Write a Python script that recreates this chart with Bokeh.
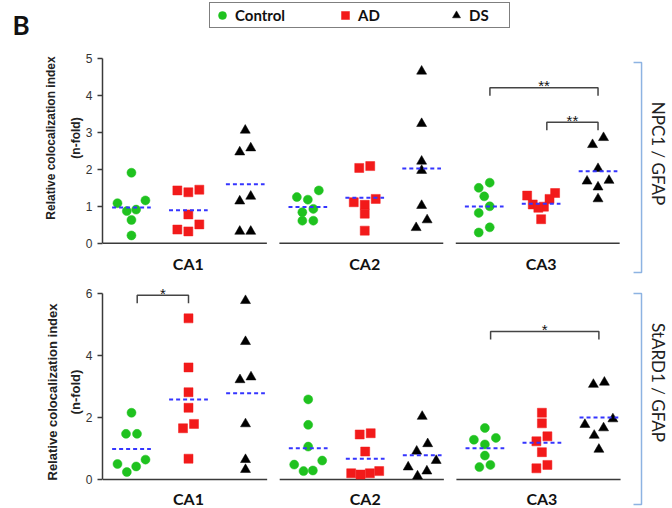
import numpy as np
from bokeh.plotting import figure
from bokeh.models import Range1d, FixedTicker, Legend, LegendItem, Label, ColumnDataSource
from bokeh.layouts import column, row
from bokeh.core.properties import value
from bokeh.embed import file_html
from bokeh.resources import INLINE

regions = ["CA1", "CA2", "CA3"]
groups = ["Control", "AD", "DS"]

# NPC1 / GFAP (values per region CA1, CA2, CA3)
npc1_control = [[1.91, 1.16, 1.085, 0.91, 0.87, 0.63, 0.21],
                [1.43, 1.25, 1.18, 0.93, 0.84, 0.61, 0.61],
                [1.64, 1.50, 1.27, 1.00, 0.82, 0.43, 0.29]]
npc1_ad = [[1.45, 1.43, 1.38, 0.78, 0.51, 0.37, 0.32],
           [2.09, 2.04, 1.20, 1.11, 1.04, 0.80, 0.34],
           [1.36, 1.29, 1.20, 1.05, 0.99, 0.96, 0.65]]
npc1_ds = [[3.06, 2.58, 2.47, 1.27, 1.14, 0.32, 0.32],
           [4.66, 3.24, 2.22, 1.97, 1.02, 0.63, 0.42],
           [2.86, 2.67, 2.02, 1.70, 1.68, 1.52, 1.20]]

# StARD1 / GFAP
stard1_control = [[2.15, 1.47, 1.47, 0.64, 0.50, 0.42, 0.24],
                  [2.58, 1.76, 1.06, 0.61, 0.48, 0.29, 0.27],
                  [1.66, 1.34, 1.28, 1.13, 0.77, 0.47, 0.40]]
stard1_ad = [[5.19, 3.61, 2.81, 2.31, 1.79, 1.65, 0.67],
             [1.49, 1.45, 0.90, 0.27, 0.20, 0.20, 0.16],
             [2.15, 1.81, 1.39, 1.23, 0.88, 0.47, 0.36]]
stard1_ds = [[5.76, 4.44, 3.30, 3.21, 1.79, 0.64, 0.32],
             [2.03, 1.15, 0.91, 0.61, 0.40, 0.27, 0.11],
             [3.13, 3.06, 1.95, 1.77, 1.66, 1.42, 0.97]]

# significance brackets: (region, group a, group b, bracket level, label)
npc1_sig = [("CA3", "Control", "DS", 4.21, "**"), ("CA3", "AD", "DS", 3.28, "**")]
stard1_sig = [("CA1", "Control", "AD", 5.93, "*"), ("CA3", "Control", "DS", 4.77, "*")]

npc1_ticks = [0, 1, 2, 3, 4, 5]
stard1_ticks = [0, 2, 4, 6]

COLORS = {"Control": "#1fc21f", "AD": "#f21a1a", "DS": "#000000"}
MARKERS = {"Control": "circle", "AD": "square", "DS": "triangle"}
SIZES = {"Control": 9, "AD": 9, "DS": 10}
PPX = 57.0   # px per category step
GAP = 3.1    # category steps between region groups
BOLD = "Lato"
STRIP = 40   # width of the left strip holding the panel letter
TOTAL_W = 672


def swarm(vals, ppu, thr=8.0, step=11.0, maxw=28.0):
    vals = np.asarray(vals, dtype=float)
    order = np.argsort(vals, kind="stable")
    v = vals[order]
    clusters = [[0]]
    for i in range(1, len(v)):
        if (v[i] - v[i - 1]) * ppu < thr:
            clusters[-1].append(i)
        else:
            clusters.append([i])
    off = np.zeros(len(v))
    for c in clusters:
        n = len(c)
        s = step if n <= 3 else min(step, maxw / (n - 1))
        slots = [(k - (n - 1) / 2) * s for k in range(n)]
        slots = sorted(slots, key=lambda z: (abs(z), z))
        for k, i in enumerate(c):
            off[order[i]] = slots[k]
    return off


def panel(data, sig, ticks, right_label, cfg, legend=False):
    ppu, y0, top, h, fl, x0 = cfg["ppu"], cfg["y0"], cfg["top"], cfg["h"], cfg["fl"], cfg["x0"]
    tx = lambda px: (px - x0) / PPX
    ty = lambda py: (y0 - py) / ppu
    p = figure(width=TOTAL_W - STRIP, height=h, output_backend="svg", toolbar_location=None,
               x_range=Range1d(tx(fl), tx(TOTAL_W)), y_range=Range1d(ty(top + h), ty(top)),
               x_axis_location=None, min_border_left=fl - STRIP, min_border_right=0,
               min_border_top=0, min_border_bottom=0)
    p.outline_line_color = None
    p.xgrid.visible = False
    p.ygrid.visible = False
    p.background_fill_color = "white"
    p.border_fill_color = "white"

    ax = p.yaxis[0]
    ax.bounds = (ticks[0], ticks[-1])
    ax.ticker = FixedTicker(ticks=ticks)
    ax.minor_tick_line_color = None
    ax.major_tick_in = 0
    ax.major_tick_out = 5
    ax.axis_line_width = 1.5
    ax.major_tick_line_width = 1.5
    ax.axis_line_color = "#3a3a3a"
    ax.major_tick_line_color = "#3a3a3a"
    ax.major_label_text_font = "Liberation Sans"
    ax.major_label_text_font_size = "12px"
    ax.major_label_text_color = "#333333"
    ax.major_label_standoff = 5
    ax.axis_label = "Relative colocalization index\n(n-fold)"
    ax.axis_label_text_font = "Liberation Sans"
    ax.axis_label_text_font_style = "bold"
    ax.axis_label_text_font_size = cfg["lfs"]
    ax.axis_label_text_color = "#222222"
    ax.axis_label_text_line_height = cfg["llh"]
    ax.axis_label_standoff = 0

    # baselines per region
    cs = [ri * GAP + 1 for ri in range(len(regions))]
    p.segment(x0=[c - 1.5 for c in cs], x1=[c + 1.38 for c in cs], y0=[0] * 3, y1=[0] * 3,
              line_color="#3a3a3a", line_width=1.6)

    rends = {}
    for gi, g in enumerate(groups):
        xs, ys, mx0, mx1, my = [], [], [], [], []
        for ri, vals in enumerate(data[g]):
            c = ri * GAP + gi
            offs = swarm(vals, ppu)
            xs += list(c + offs / PPX)
            ys += list(vals)
            m = float(np.mean(vals))
            mx0.append(c - 0.34); mx1.append(c + 0.34); my.append(m)
        src = ColumnDataSource(dict(x=xs, y=ys))
        rends[g] = p.scatter("x", "y", source=src, marker=MARKERS[g], size=SIZES[g],
                             fill_color=COLORS[g], line_color=COLORS[g], line_width=0.5)
        p.segment(x0=mx0, x1=mx1, y0=my, y1=my, line_color="#3535ff", line_width=2,
                  line_dash="4 3")

    # region labels
    p.text(x=cs, y=[ty(cfg["lab"])] * 3, text=regions, text_font=value(BOLD),
           text_font_style="bold", text_font_size="16px", text_color="#111111",
           text_align="center", text_baseline="middle")

    # significance brackets
    drop = 8.0 / ppu
    for reg, ga, gb, lvl, lab in sig:
        ri = regions.index(reg)
        xa = ri * GAP + groups.index(ga) + 0.1
        xb = ri * GAP + groups.index(gb)
        p.line([xa, xa, xb, xb], [lvl - drop, lvl, lvl, lvl - drop], line_color="#444444",
               line_width=1.5)
        p.text(x=[(xa + xb) / 2], y=[lvl + 2.0 / ppu], text=[lab], text_font=value("Liberation Sans"),
               text_font_size="15px", text_color="#111111", text_align="center",
               text_baseline="alphabetic")

    # right bracket + label
    bt, bb = cfg["br"]
    p.line([tx(633), tx(641), tx(641), tx(633)], [ty(bt), ty(bt), ty(bb), ty(bb)],
           line_color="#8db3e2", line_width=1.5)
    p.add_layout(Label(x=tx(658), y=ty(cfg["rl"]), text=right_label, angle=-np.pi / 2,
                       text_align="center", text_baseline="middle", text_font="Lato",
                       text_font_size="17px", text_color="#222222"))

    if legend:
        leg = Legend(items=[LegendItem(label=g, renderers=[rends[g]]) for g in groups],
                     orientation="horizontal", location=(208 - fl, h - 28),
                     label_text_font=BOLD, label_text_font_style="bold",
                     label_text_font_size="15px", label_text_color="#111111",
                     glyph_width=20, glyph_height=20, label_height=20, label_width=38,
                     label_standoff=3, spacing=50, padding=2,
                     border_line_color="black", border_line_width=1.5,
                     background_fill_color="white", background_fill_alpha=1.0)
        p.add_layout(leg)
    return p


top_cfg = dict(ppu=36.9, y0=242.7, top=0, h=275, fl=101, x0=130, lab=263, br=(62, 272), rl=153,
               lfs="12px", llh=1.75)
bot_cfg = dict(ppu=31.05, y0=479.0, top=275, h=233, fl=102, x0=131, lab=498, br=(293, 504), rl=382,
               lfs="13px", llh=1.55)

p1 = panel({"Control": npc1_control, "AD": npc1_ad, "DS": npc1_ds}, npc1_sig, npc1_ticks,
           "NPC1 / GFAP", top_cfg, legend=True)
p2 = panel({"Control": stard1_control, "AD": stard1_ad, "DS": stard1_ds}, stard1_sig, stard1_ticks,
           "StARD1 / GFAP", bot_cfg)

# left strip carrying the panel letter (1 unit = 1 px)
strip = figure(width=STRIP, height=508, output_backend="svg", toolbar_location=None,
               x_range=Range1d(0, STRIP), y_range=Range1d(508, 0),
               x_axis_location=None, y_axis_location=None,
               min_border_left=0, min_border_right=0, min_border_top=0, min_border_bottom=0)
strip.outline_line_color = None
strip.xgrid.visible = False
strip.ygrid.visible = False
strip.text(x=[12], y=[8], text=["B"], text_font=value("Lato"), text_font_style="bold",
           text_font_size="26px", text_color="#111111", text_align="left", text_baseline="top")

layout = row(strip, column(p1, p2, spacing=0), spacing=0)
open("out.html", "w").write(file_html(layout, INLINE))
